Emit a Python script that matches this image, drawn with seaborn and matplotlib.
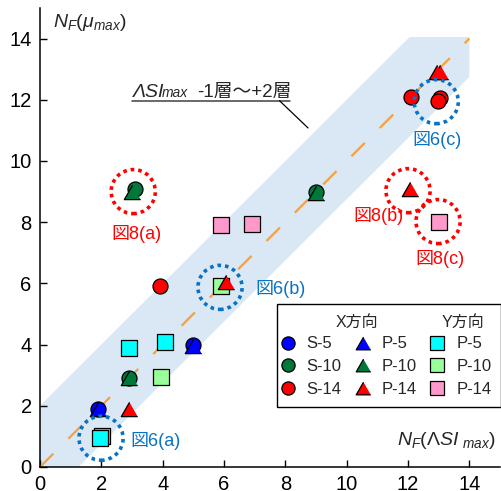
import numpy as np
import matplotlib
matplotlib.use("Agg")
import matplotlib.pyplot as plt
from matplotlib.patches import Polygon, Circle
from matplotlib.lines import Line2D
import seaborn as sns

# ---- data: N_F(ΛSI_max) on x, N_F(μ_max) on y ----
# X direction, S models (circles)
s5_x, s5_y = [1.9, 5.0], [1.9, 4.0]
s10_x, s10_y = [2.9, 3.1, 9.0], [2.9, 9.1, 9.0]
s14_x, s14_y = [3.9, 12.1, 13.05, 12.97], [5.9, 12.1, 12.05, 11.96]
# X direction, P models (triangles)
px5_x, px5_y = [1.9, 5.0], [1.9, 3.97]
px10_x, px10_y = [2.9, 3.0, 9.0], [2.9, 9.0, 8.95]
px14_x, px14_y = [2.9, 6.05, 13.05, 12.95, 12.05], [1.88, 6.05, 12.92, 12.9, 9.07]
# Y direction, P models (squares)
py5_x, py5_y = [2.03, 1.95, 2.9, 4.08], [1.02, 0.94, 3.9, 4.1]
py10_x, py10_y = [3.95, 5.9], [2.93, 5.9]
py14_x, py14_y = [5.9, 6.92, 13.0], [7.9, 7.94, 8.0]

ticks = [0, 2, 4, 6, 8, 10, 12, 14]

# highlighted cases: (label, x, y, label_x, label_y)
red_marks = [("図8(a)", 3.04, 9.0, 3.15, 7.6),
             ("図8(b)", 12.0, 9.03, 11.05, 8.2),
             ("図8(c)", 12.98, 8.02, 13.05, 6.8)]
blue_marks = [("図6(c)", 12.92, 11.94, 12.95, 10.7),
              ("図6(b)", 5.87, 5.87, 7.83, 5.83),
              ("図6(a)", 1.99, 0.94, 3.75, 0.85)]

# band of -1 to +2 storeys around the 1:1 line
band_lo, band_hi = -1.25, 2.0

BLUE, GREEN, RED = "#0000FF", "#00783A", "#FF0000"
CYAN, LGREEN, PINK = "#00FFFF", "#99FF99", "#FF99CC"
MARK_BLUE = "#0872C4"

sns.set_style("ticks")
plt.rcParams["font.family"] = ["Liberation Sans", "Noto Sans CJK JP", "DejaVu Sans"]
plt.rcParams["mathtext.fontset"] = "custom"
plt.rcParams["mathtext.rm"] = "Liberation Sans"
plt.rcParams["mathtext.it"] = "Liberation Sans:italic"
plt.rcParams["mathtext.sf"] = "Liberation Sans"

fig = plt.figure(figsize=(5.01, 4.91), dpi=100)
ax = fig.add_axes([40 / 501, 24 / 491, 460 / 501, 459 / 491])
ax.set_xlim(0, 15.0)
ax.set_ylim(0, 15.0)

# band and 1:1 line
x_top = 14.05 - band_hi
band = Polygon([(0, 0), (-band_lo, 0), (14, 14 + band_lo), (14, 14.05),
                (x_top, 14.05), (0, band_hi)],
               closed=True, facecolor="#DAE7F5", edgecolor="none", zorder=0)
ax.add_patch(band)
sns.lineplot(x=[0, 14], y=[0, 14], ax=ax, color="#F7A03C", lw=1.6,
             dashes=False, zorder=1).lines[-1].set_dashes((8.5, 9.5))

tri = np.array([(0.0, 1.0), (-1.15, -1.0), (1.15, -1.0)])
kw = dict(ax=ax, edgecolor="black", linewidth=0.9, legend=False)
sq_s, ci_s, tr_s = 11.3 ** 2, 10.8 ** 2, 11.8 ** 2

for xs, ys, c in [(py5_x, py5_y, CYAN), (py10_x, py10_y, LGREEN), (py14_x, py14_y, PINK)]:
    sns.scatterplot(x=xs, y=ys, marker="s", s=sq_s, color=c, zorder=3, **kw)
for xs, ys, c in [(s5_x, s5_y, BLUE), (s10_x, s10_y, GREEN), (s14_x, s14_y, RED)]:
    sns.scatterplot(x=xs, y=ys, marker="o", s=ci_s, color=c, zorder=4, **kw)
for xs, ys, c in [(px5_x, px5_y, BLUE), (px10_x, px10_y, GREEN), (px14_x, px14_y, RED)]:
    sns.scatterplot(x=xs, y=ys, marker=tri, s=tr_s, color=c, zorder=5, **kw)

# dotted rings and their captions
for marks, col in [(red_marks, RED), (blue_marks, MARK_BLUE)]:
    for lab, cx, cy, lx, ly in marks:
        ax.add_patch(Circle((cx, cy), 0.72, fill=False, edgecolor=col,
                            linewidth=2.6, linestyle=(0, (1, 1.1)), zorder=6))
        ax.text(lx, ly, lab, color=col, fontsize=13, ha="center", va="center",
                zorder=7)

# band annotation with underline and leader
ax.text(3.02, 12.08, "ΛSI", fontsize=14, style="italic", va="baseline", ha="left")
ax.text(3.97, 12.08, "max", fontsize=10, style="italic", va="baseline", ha="left")
ax.text(5.13, 12.08, "-1層～+2層", fontsize=13.5, va="baseline", ha="left")
ax.plot([3.0, 8.15], [11.97, 11.97], color="#404040", lw=1.1)
ax.plot([7.81, 8.74], [11.97, 11.08], color="black", lw=0.9)

# axis titles placed inside the frame
ax.text(0.42, 14.38, r"$N_F(μ_{max})$", fontsize=14, va="baseline", ha="left")
ax.text(11.65, 0.72, r"$N_F(ΛSI\;{}_{max})$", fontsize=14, va="baseline", ha="left")

ax.set_xticks(ticks)
ax.set_yticks(ticks)
ax.tick_params(direction="in", length=5, width=1, labelsize=14.5, pad=6,
               colors="black")
for side in ["top", "right"]:
    ax.spines[side].set_visible(False)
for side in ["left", "bottom"]:
    ax.spines[side].set_linewidth(1.1)
    ax.spines[side].set_color("black")
ax.set_xlabel("")
ax.set_ylabel("")

# legend: three columns with a heading row
def h(marker, col, ms):
    return Line2D([], [], ls="none", marker=marker, markerfacecolor=col,
                  markeredgecolor="black", markeredgewidth=0.9, markersize=ms)

blank = Line2D([], [], ls="none")
handles = [blank, h("o", BLUE, 9.5), h("o", GREEN, 9.5), h("o", RED, 9.5),
           blank, h(tri, BLUE, 10.5), h(tri, GREEN, 10.5), h(tri, RED, 10.5),
           blank, h("s", CYAN, 9.5), h("s", LGREEN, 9.5), h("s", PINK, 9.5)]
labels = ["", "S-5", "S-10", "S-14", "", "P-5", "P-10", "P-14", "", "P-5", "P-10", "P-14"]
leg = ax.legend(handles, labels, ncol=3, loc="upper left",
                bbox_to_anchor=(277 / 501, 1 - 304 / 491),
                bbox_transform=fig.transFigure, borderaxespad=0,
                fontsize=12, frameon=True, fancybox=False, edgecolor="black",
                framealpha=1, handlelength=0.1, handletextpad=1.08,
                columnspacing=1.2, labelspacing=0.45, borderpad=0.6)
leg.get_frame().set_linewidth(1.0)
fig.text(357 / 501, 1 - 322 / 491, "X方向", fontsize=11.5, ha="center", va="center")
fig.text(463 / 501, 1 - 322 / 491, "Y方向", fontsize=11.5, ha="center", va="center")

fig.savefig("out.png", dpi=100)
